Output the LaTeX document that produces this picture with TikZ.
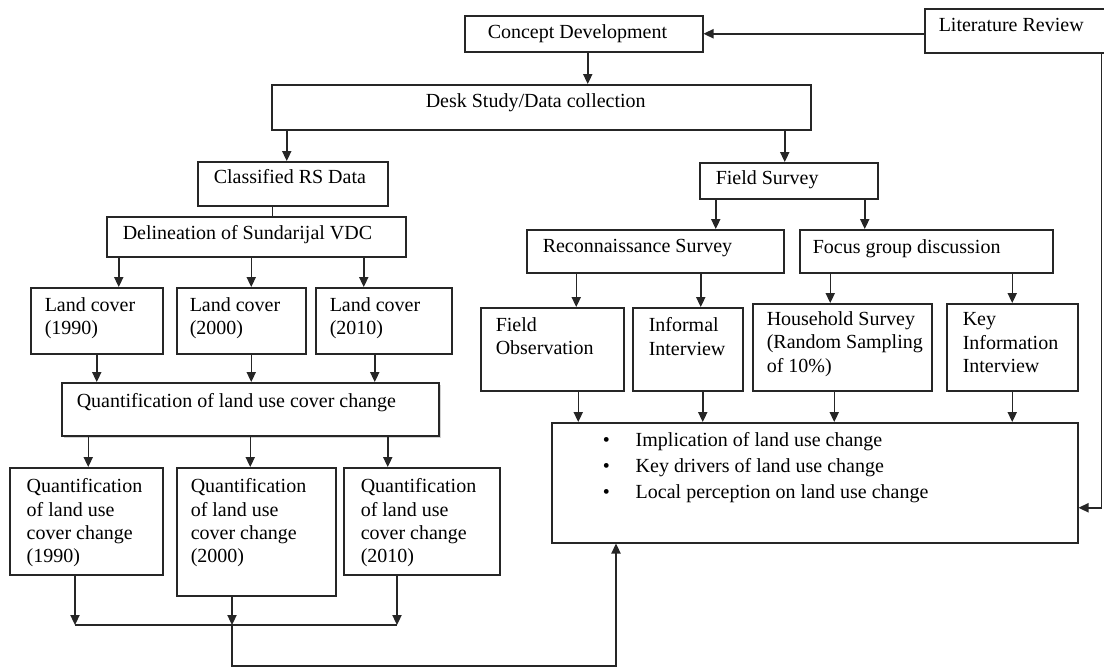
\documentclass[tikz,border=0pt]{standalone}
\usepackage{fontspec}
\setmainfont{Liberation Serif}
\usetikzlibrary{arrows.meta,shadows}
\newlength{\pxu}
\setlength{\pxu}{0.5pt}
% box text: width, height, top gap, left gap, text (all in pixels)
\newcommand{\boxtext}[5]{\parbox[t][#2\pxu][t]{#1\pxu}{\raggedright\leftskip=#4\pxu\vspace*{#3\pxu}#5}}
\begin{document}
\begin{tikzpicture}[x=0.5pt, y=-0.5pt,
		font=\fontsize{10}{11.6}\selectfont,
		box/.style={draw=black!85, line width=0.75pt, inner sep=0pt, anchor=north west},
		arr/.style={draw=black!85, line width=0.75pt, -{Triangle[length=5pt,width=4.6pt]}},
		wire/.style={draw=black!85, line width=0.75pt}
		]
	\useasboundingbox (0,0) rectangle (1104,670);

	\node [box] (concept) at (464,15) {\boxtext{238}{36}{9}{23}{Concept Development}};
	\node [box] (litrev) at (924,8) {\boxtext{186}{44}{10}{14}{Literature Review}};
	\node [box] (desk) at (271,84) {\boxtext{539}{45}{9}{154}{Desk Study/Data collection}};
	\node [box] (class) at (197,161) {\boxtext{190}{44}{8}{16}{Classified RS Data}};
	\node [box] (field) at (699,162) {\boxtext{178}{36}{8}{16}{Field Survey}};

	% left branch
	\node [box] (delin) at (106,216) {\boxtext{299}{40}{9}{16}{Delineation of Sundarijal VDC}};
	\node [box] (lc1) at (30,287) {\boxtext{132}{66}{10}{14}{Land cover\\(1990)}};
	\node [box] (lc2) at (176,287) {\boxtext{129}{66}{10}{13}{Land cover\\(2000)}};
	\node [box] (lc3) at (315,287) {\boxtext{136}{66}{10}{14}{Land cover\\(2010)}};
	\node [box, drop shadow={shadow xshift=1pt, shadow yshift=-1pt, fill=black!35}, fill=white] (quant) at (61,382)
		{\boxtext{377}{53}{11}{15}{Quantification of land use cover change}};
	\node [box] (qc1) at (9,467) {\boxtext{153}{107}{11}{17}{Quantification\\of land use\\cover change\\(1990)}};
	\node [box] (qc2) at (176,467) {\boxtext{159}{128}{11}{14}{Quantification\\of land use\\cover change\\(2000)}};
	\node [box] (qc3) at (343,467) {\boxtext{156}{107}{11}{17}{Quantification\\of land use\\cover change\\(2010)}};

	% right branch
	\node [box] (recon) at (526,229) {\boxtext{257}{43}{10}{16}{Reconnaissance Survey}};
	\node [box] (focus) at (799,229) {\boxtext{253}{43}{10}{13}{Focus group discussion}};
	\node [box] (fobs) at (480,307) {\boxtext{143}{83}{10}{15}{Field\\Observation}};
	\node [box] (infint) at (632,307) {\boxtext{110}{83}{10}{16}{Informal\\Interview}};
	\node [box] (house) at (752,303) {\boxtext{179}{87}{8}{14}{Household Survey\\(Random Sampling\\of 10\%)}};
	\node [box] (keyinfo) at (946,303) {\boxtext{131}{87}{9}{16}{Key\\Information\\Interview}};
	\node [box] (impl) at (551,422) {\boxtext{526}{120}{10}{51}{%
		\makebox[33\pxu][l]{\textbullet}Implication of land use change\\[1.2pt]
		\makebox[33\pxu][l]{\textbullet}Key drivers of land use change\\[1.2pt]
		\makebox[33\pxu][l]{\textbullet}Local perception on land use change}};

	\coordinate (j1) at (75,625);
	\coordinate (j2) at (232,625);
	\coordinate (j3) at (397,625);
	\coordinate (b1) at (232,666);
	\coordinate (b2) at (616,666);

	\draw[arr] (concept.east -| litrev.west) -- (concept.east);
	\draw[arr] ([xshift=2pt]concept.south) -- ([xshift=2pt]concept.south |- desk.north);
	\draw[arr] ([xshift=-3pt]class.north |- desk.south) -- ([xshift=-3pt]class.north);
	\draw[arr] ([xshift=-2pt]field.north |- desk.south) -- ([xshift=-2pt]field.north);
	\draw[wire] ([xshift=8pt]delin.north |- class.south) -- ([xshift=8pt]delin.north);

	\foreach \n/\s in {lc1/11pt, lc2/5pt, lc3/-10pt}
		\draw[arr] ([xshift=\s]\n.north |- delin.south) -- ([xshift=\s]\n.north);
	\foreach \n/\s in {lc1/0pt, lc2/5pt, lc3/-4.5pt}
		\draw[arr] ([xshift=\s]\n.south) -- ([xshift=\s]\n.south |- quant.north);
	\foreach \n/\s in {qc1/1pt, qc2/-3pt, qc3/-17pt}
		\draw[arr] ([xshift=\s]\n.north |- quant.south) -- ([xshift=\s]\n.north);
	\foreach \n/\j in {qc1/j1, qc2/j2, qc3/j3}
		\draw[arr] (\n.south -| \j) -- (\j);
	\draw[wire] (j1) -- (j3);
	\draw[arr] (j2) -- (b1) -- (b2) -- (b2 |- impl.south);

	\draw[arr] ([xshift=30.25pt]recon.north |- field.south) -- ([xshift=30.25pt]recon.north);
	\draw[arr] ([xshift=-30.75pt]focus.north |- field.south) -- ([xshift=-30.75pt]focus.north);
	\foreach \n/\s in {fobs/12pt, infint/6.5pt}
		\draw[arr] ([xshift=\s]\n.north |- recon.south) -- ([xshift=\s]\n.north);
	\foreach \n/\s in {house/-6pt, keyinfo/0pt}
		\draw[arr] ([xshift=\s]\n.north |- focus.south) -- ([xshift=\s]\n.north);
	\foreach \n/\s in {fobs/13pt, infint/7.5pt, house/-4pt, keyinfo/0pt}
		\draw[arr] ([xshift=\s]\n.south) -- ([xshift=\s]\n.south |- impl.north);
	\draw[arr] ([xshift=-5pt]litrev.south east) |- ([yshift=-12.5pt]impl.east);
\end{tikzpicture}
\end{document}
